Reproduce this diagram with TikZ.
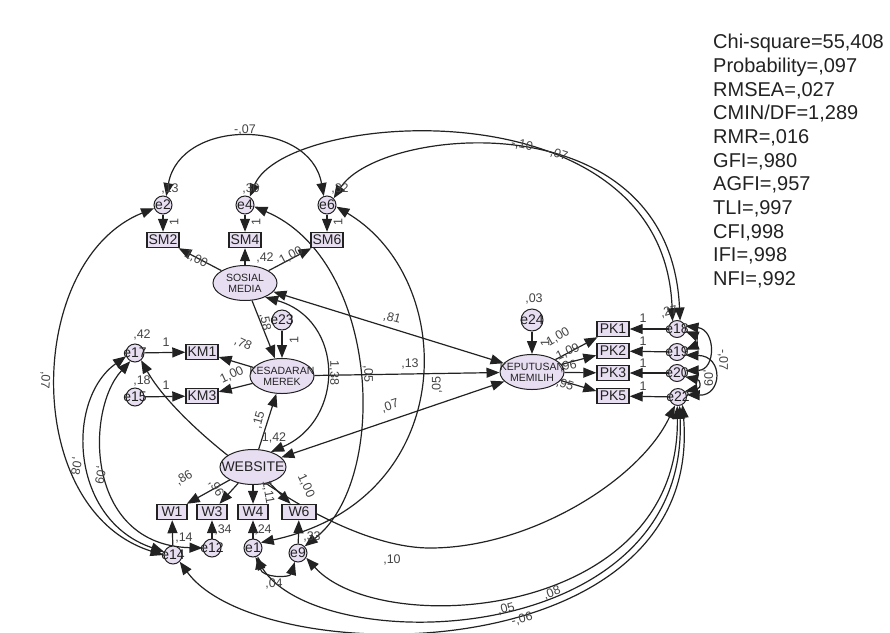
\documentclass[tikz,border=0pt]{standalone}
\usepackage{fontspec}
\setmainfont{Liberation Sans}
\usetikzlibrary{shapes.geometric,arrows.meta}
\pgfdeclarelayer{bg}
\pgfsetlayers{bg,main}
\definecolor{lav}{HTML}{E8DEF2}
\definecolor{ink}{HTML}{222222}
\begin{document}
\begin{tikzpicture}[x=1pt,y=-1pt,
 amtip/.tip={Triangle[length=13pt,width=10pt]},
 arr/.style={-amtip, line width=1.2pt, draw=ink},
 cov/.style={amtip-amtip, line width=1.2pt, draw=ink},
 lat/.style={ellipse, draw=ink, line width=1pt, fill=lav, minimum width=64pt, minimum height=35pt, inner sep=0pt},
 lattxt/.style={font=\fontsize{10.5}{11}\selectfont, align=center, text=ink, inner sep=0pt},
 webtxt/.style={font=\fontsize{14}{14}\selectfont, text=ink, inner sep=0pt},
 obs/.style={rectangle, draw=ink, line width=1.4pt, fill=lav, minimum width=32pt, minimum height=15pt, inner sep=0pt, font=\fontsize{14}{14}\selectfont, text=ink},
 err/.style={circle, draw=ink, line width=1pt, fill=lav, minimum size=18pt, inner sep=0pt},
 errtxt/.style={font=\fontsize{14}{14}\selectfont, text=ink, inner sep=0pt},
 lab/.style={font=\fontsize{12.5}{12.5}\selectfont, text=ink!85, inner sep=0pt},
]
\useasboundingbox (0,0) rectangle (890,632);

% ---------- nodes ----------
\node[err, label={[errtxt]center:e2}] (e2) at (163,205) {};
\node[err, label={[errtxt]center:e4}] (e4) at (245,205) {};
\node[err, label={[errtxt]center:e6}] (e6) at (327,205) {};
\node[obs] (SM2) at (163,240) {SM2};
\node[obs] (SM4) at (245,240) {SM4};
\node[obs] (SM6) at (327,240) {SM6};
\node[lat, label={[lattxt]center:SOSIAL\\MEDIA}] (SM) at (245,283) {};
\node[err, minimum size=20pt, label={[errtxt]center:e23}] (e23) at (282,320) {};
\node[lat, label={[lattxt]center:KESADARAN\\MEREK}] (KES) at (282,376) {};
\node[err, label={[errtxt]center:e17}] (e17) at (135,353) {};
\node[err, label={[errtxt]center:e15}] (e15) at (135,397) {};
\node[obs] (KM1) at (202,352) {KM1};
\node[obs] (KM3) at (202,396) {KM3};
\node[lat, minimum width=66pt, label={[webtxt]center:WEBSITE}] (WEB) at (253,467) {};
\node[obs, minimum width=30pt] (W1) at (172,512) {W1};
\node[obs, minimum width=30pt] (W3) at (212,512) {W3};
\node[obs, minimum width=30pt] (W4) at (253,512) {W4};
\node[obs, minimum width=34pt] (W6) at (299,512) {W6};
\node[err, label={[errtxt]center:e14}] (e14) at (173,555) {};
\node[err, label={[errtxt]center:e12}] (e12) at (212,548) {};
\node[err, label={[errtxt]center:e1}] (e1) at (253,548) {};
\node[err, label={[errtxt]center:e9}] (e9) at (298,553) {};
\node[err, minimum size=22pt, label={[errtxt]center:e24}] (e24) at (532,320) {};
\node[lat, label={[lattxt]center:KEPUTUSAN\\MEMILIH}] (KEP) at (532,372) {};
\node[obs] (PK1) at (613,329) {PK1};
\node[obs] (PK2) at (613,351) {PK2};
\node[obs] (PK3) at (613,373) {PK3};
\node[obs] (PK5) at (613,396) {PK5};
\node[err, minimum size=17pt, label={[errtxt]center:e18}] (e18) at (677,329) {};
\node[err, minimum size=17pt, label={[errtxt]center:e19}] (e19) at (677,352) {};
\node[err, minimum size=17pt, label={[errtxt]center:e20}] (e20) at (677,373) {};
\node[err, minimum size=17pt, label={[errtxt]center:e22}] (e22) at (678,397) {};

% ---------- fit statistics ----------
\node[anchor=north west, inner sep=0pt, align=left, text=ink,
      font=\fontsize{20}{23.7}\selectfont] (fit) at (713,34)
 {Chi-square=55,408\\Probability=,097\\RMSEA=,027\\CMIN/DF=1,289\\RMR=,016\\GFI=,980\\AGFI=,957\\TLI=,997\\CFI,998\\IFI=,998\\NFI=,992};

% ---------- long covariance arcs ----------
\begin{pgfonlayer}{bg}
\draw[cov] (e2.70) .. controls (180,118) and (310,118) .. (e6.110);
\draw[cov] (e4.60) .. controls (285,110) and (665,82) .. (e18.120);
\draw[cov] (e6.45) .. controls (380,126) and (670,98) .. (e18.70);
\draw[cov] (e2.200) .. controls (25,260) and (20,510) .. (e14.180);
\draw[cov] (e17.200) .. controls (65,400) and (70,520) .. (e14.160);
\draw[cov] (e17.240) .. controls (85,410) and (85,545) .. (e12.180);
\draw[cov] (e17.-50) .. controls (180,430) and (330,548) .. (430,548) .. controls (530,548) and (640,480) .. (e22.250);
\draw[cov] (SM.-35) .. controls (345,320) and (345,420) .. (WEB.40);
\draw[cov] (e4.-10) .. controls (380,260) and (390,480) .. (e9.45);
\draw[cov] (e6.-10) .. controls (460,280) and (460,500) .. (e1.35);
\draw[cov] (e1.-60) .. controls (262,578) and (290,578) .. (e9.-110);
\draw[cov] (e9.-30) .. controls (380,640) and (680,620) .. (e22.-95);
\draw[cov] (e1.-75) .. controls (320,660) and (690,650) .. (e22.-80);
\draw[cov] (e14.-45) .. controls (260,672) and (705,672) .. (e22.-60);
% right-side error covariances
\draw[cov] (e18.-15) .. controls (697,336) and (697,345) .. (e19.15);
\draw[cov] (e18.20) .. controls (716,330) and (716,370) .. (e20.15);
\draw[cov] (e19.-20) .. controls (724,356) and (722,396) .. (e22.15);
\draw[cov] (e20.-25) .. controls (700,380) and (702,388) .. (e22.40);
\end{pgfonlayer}

% ---------- straight paths ----------
\draw[arr] (e2) -- (SM2);
\draw[arr] (e4) -- (SM4);
\draw[arr] (e6) -- (SM6);
\draw[arr] (SM) -- (SM2);
\draw[arr] (SM) -- (SM4);
\draw[arr] (SM) -- (SM6);
\draw[arr] (SM) -- (KES);
\draw[arr] (e23) -- (KES);
\draw[arr] (WEB) -- (KES);
\draw[arr] (KES) -- (KM1);
\draw[arr] (KES) -- (KM3);
\draw[arr] (e17) -- (KM1);
\draw[arr] (e15) -- (KM3);
\draw[arr] (KES) -- (KEP);
\draw[cov] (SM) -- (KEP);
\draw[cov] (WEB) -- (KEP);
\draw[arr] (WEB) -- (W1);
\draw[arr] (WEB) -- (W3);
\draw[arr] (WEB) -- (W4);
\draw[arr] (WEB) -- (W6);
\draw[arr] (e14) -- (W1);
\draw[arr] (e12) -- (W3);
\draw[arr] (e1) -- (W4);
\draw[arr] (e9) -- (W6);
\draw[arr] (e24) -- (KEP);
\draw[arr] (KEP) -- (PK1);
\draw[arr] (KEP) -- (PK2);
\draw[arr] (KEP) -- (PK3);
\draw[arr] (KEP) -- (PK5);
\draw[arr] (e18) -- (PK1);
\draw[arr] (e19) -- (PK2);
\draw[arr] (e20) -- (PK3);
\draw[arr] (e22) -- (PK5);

% ---------- labels ----------
\node[lab] (l1) at (245,130) {-,07};
\node[lab, rotate=-12] (l2) at (522,145) {-,10};
\node[lab, rotate=-18] (l3) at (557,154) {-,07};
\node[lab] (l4) at (170,189) {,13};
\node[lab] (l5) at (251,189) {,30};
\node[lab] (l6) at (340,189) {,32};
\node[lab, rotate=90] (l7) at (174,222) {1};
\node[lab, rotate=90] (l8) at (256,222) {1};
\node[lab, rotate=90] (l9) at (338,222) {1};
\node[lab, rotate=-28] (l10) at (196,259) {1,00};
\node[lab] (l11) at (265,258) {,42};
\node[lab, rotate=28] (l12) at (291,256) {1,00};
\node[lab, rotate=-80] (l13) at (265,322) {,58};
\node[lab, rotate=90] (l14) at (294,340) {1};
\node[lab] (l15) at (142,335) {,42};
\node[lab] (l16) at (142,381) {,18};
\node[lab] (l17) at (166,342) {1};
\node[lab] (l18) at (166,385) {1};
\node[lab, rotate=-25] (l19) at (243,344) {,78};
\node[lab, rotate=25] (l20) at (232,375) {1,00};
\node[lab, rotate=75] (l21) at (259,420) {,15};
\node[lab] (l22) at (274,438) {1,42};
\node[lab] (l23) at (410,364) {,13};
\node[lab, rotate=-15] (l24) at (392,318) {,81};
\node[lab, rotate=18] (l25) at (390,406) {,07};
\node[lab, rotate=-90] (l26) at (334,373) {1,38};
\node[lab, rotate=-90] (l27) at (368,374) {,05};
\node[lab, rotate=90] (l28) at (437,385) {,05};
\node[lab, rotate=-95] (l29) at (45,380) {,07};
\node[lab, rotate=-100] (l30) at (76,466) {,08};
\node[lab, rotate=-100] (l31) at (100,475) {,09};
\node[lab, rotate=30] (l32) at (184,478) {,86};
\node[lab, rotate=-60] (l33) at (216,488) {,96};
\node[lab, rotate=-80] (l34) at (268,492) {1,11};
\node[lab, rotate=-65] (l35) at (306,486) {1,00};
\node[lab] (l36) at (184,538) {,14};
\node[lab] (l37) at (223,530) {,34};
\node[lab] (l38) at (263,530) {,24};
\node[lab] (l39) at (312,537) {,33};
\node[lab] (l40) at (274,584) {,04};
\node[lab] (l41) at (392,560) {,10};
\node[lab, rotate=20] (l42) at (552,593) {,08};
\node[lab, rotate=15] (l43) at (506,609) {,05};
\node[lab, rotate=15] (l44) at (522,619) {-,06};
\node[lab] (l45) at (534,299) {,03};
\node[lab, rotate=90] (l46) at (545,343) {1};
\node[lab, rotate=30] (l47) at (558,337) {1,00};
\node[lab, rotate=25] (l48) at (568,352) {1,09};
\node[lab, rotate=10] (l49) at (568,366) {,96};
\node[lab, rotate=-20] (l50) at (565,385) {,95};
\node[lab] (l51) at (643,318) {1};
\node[lab] (l52) at (643,341) {1};
\node[lab] (l53) at (643,363) {1};
\node[lab] (l54) at (643,386) {1};
\node[lab, rotate=15] (l55) at (669,312) {,27};
\node[lab, rotate=-90] (l56) at (723,360) {-,07};
\node[lab, rotate=-90] (l57) at (708,378) {,09};
\end{tikzpicture}
\end{document}
